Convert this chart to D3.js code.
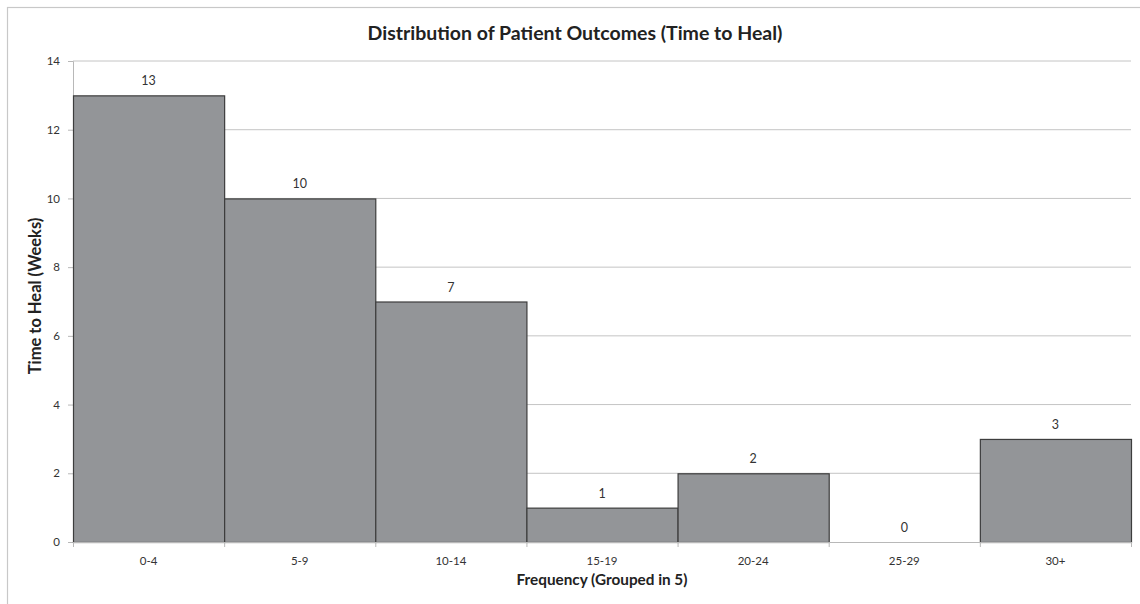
<!DOCTYPE html>
<html>
<head>
<meta charset="utf-8">
<script src="https://cdn.jsdelivr.net/npm/d3@7"></script>
<style>
  html, body { margin: 0; padding: 0; background: #fff; }
  svg { display: block; font-family: Lato, "Open Sans", sans-serif; }
</style>
</head>
<body>
<svg id="chart" width="1140" height="604"></svg>
<script>
// Histogram of healing times, grouped in 5-week bins
const categories = ["0-4", "5-9", "10-14", "15-19", "20-24", "25-29", "30+"];
const counts = [13, 10, 7, 1, 2, 0, 3];
const yTicks = [0, 2, 4, 6, 8, 10, 12, 14];

const title = "Distribution of Patient Outcomes (Time to Heal)";
const xTitle = "Frequency (Grouped in 5)";
const yTitle = "Time to Heal (Weeks)";

const svg = d3.select("#chart");
const W = 1140, H = 604;
const m = { left: 73, right: 9, top: 61, bottom: 62 };

// outer chart frame
svg.append("rect")
  .attr("x", 7.5).attr("y", 7.5)
  .attr("width", W + 10).attr("height", H + 10)
  .attr("fill", "none").attr("stroke", "#c8c8c8").attr("stroke-width", 1.2);

const x = d3.scaleBand().domain(categories)
  .range([m.left, W - m.right]).padding(0);
const y = d3.scaleLinear().domain([0, 14]).range([H - m.bottom, m.top]);

// horizontal gridlines
svg.append("g").selectAll("line").data(yTicks.filter(d => d > 0)).join("line")
  .attr("x1", m.left).attr("x2", W - m.right)
  .attr("y1", d => y(d)).attr("y2", d => y(d))
  .attr("stroke", "#c4c4c4").attr("stroke-width", 1);

// y axis
const yAxis = svg.append("g")
  .attr("transform", `translate(${m.left},0)`)
  .call(d3.axisLeft(y).tickValues(yTicks).tickSize(5).tickPadding(8));
yAxis.select(".domain").attr("stroke", "#b8b8b8");
yAxis.selectAll(".tick line").attr("stroke", "#b8b8b8");
yAxis.selectAll(".tick text").attr("fill", "#333").style("font-size", "11.5px")
  .style("font-family", "Lato, sans-serif");

// bars
svg.append("g").selectAll("rect").data(categories).join("rect")
  .attr("x", d => x(d) + 0.5)
  .attr("y", (d, i) => y(counts[i]) + 0.5)
  .attr("width", x.bandwidth())
  .attr("height", (d, i) => y(0) - y(counts[i]))
  .attr("fill", (d, i) => counts[i] > 0 ? "#939598" : "none")
  .attr("stroke", (d, i) => counts[i] > 0 ? "#3d3d3d" : "none")
  .attr("stroke-width", 1.2);

// x axis
const xAxis = svg.append("g")
  .attr("transform", `translate(0,${y(0)})`)
  .call(d3.axisBottom(x).tickSize(0).tickPadding(15));
xAxis.select(".domain").attr("stroke", "#b8b8b8");
xAxis.selectAll(".tick text").attr("fill", "#333").style("font-size", "11.5px")
  .style("font-family", "Lato, sans-serif");
// boundary tick marks between bins
const bounds = categories.map(c => x(c)).concat([x.range()[1]]);
svg.append("g").selectAll("line").data(bounds).join("line")
  .attr("x1", d => d + 0.5).attr("x2", d => d + 0.5)
  .attr("y1", y(0)).attr("y2", y(0) + 5)
  .attr("stroke", "#b8b8b8");

// value labels
svg.append("g").selectAll("text").data(categories).join("text")
  .attr("x", d => x(d) + x.bandwidth() / 2)
  .attr("y", (d, i) => y(counts[i]) - 10)
  .attr("text-anchor", "middle")
  .attr("fill", "#333").style("font-size", "12.5px")
  .text((d, i) => counts[i]);

// titles
svg.append("text")
  .attr("x", 575).attr("y", 40)
  .attr("text-anchor", "middle").attr("fill", "#222")
  .style("font-size", "19.5px").style("font-weight", "bold")
  .text(title);

svg.append("text")
  .attr("x", (m.left + W - m.right) / 2).attr("y", 585)
  .attr("text-anchor", "middle").attr("fill", "#222")
  .style("font-size", "15.3px").style("font-weight", "bold")
  .text(xTitle);

svg.append("text")
  .attr("transform", `translate(41,296) rotate(-90)`)
  .attr("text-anchor", "middle").attr("fill", "#222")
  .style("font-size", "16.5px").style("font-weight", "bold")
  .text(yTitle);
</script>
</body>
</html>
